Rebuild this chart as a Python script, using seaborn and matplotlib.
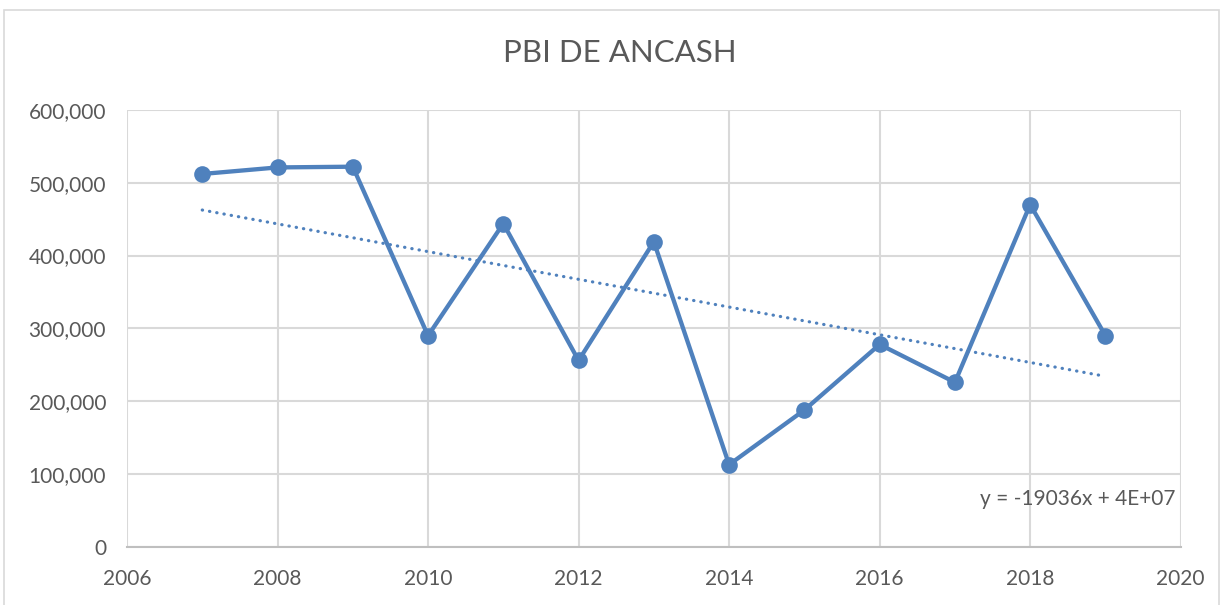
import matplotlib
matplotlib.use("Agg")
import matplotlib.pyplot as plt
import matplotlib.ticker as mticker
from matplotlib.patches import Rectangle
import pandas as pd
import seaborn as sns

# PBI values
years = [2007, 2008, 2009, 2010, 2011, 2012, 2013, 2014, 2015, 2016, 2017, 2018, 2019]
pbi = [512000, 521000, 522000, 290000, 444000, 256000, 419000,
       113000, 188000, 278000, 226000, 470000, 290000]
x_ticks = [2006, 2008, 2010, 2012, 2014, 2016, 2018, 2020]
y_ticks = [0, 100000, 200000, 300000, 400000, 500000, 600000]
title = "PBI DE ANCASH"
equation = "y = -19036x + 4E+07"

df = pd.DataFrame({"year": years, "pbi": pbi})

sns.set_theme(style="white")
plt.rcParams['font.family'] = ['Lato', 'DejaVu Sans']

blue = '#4F81BD'
text_gray = '#595959'
grid_gray = '#D9D9D9'

fig = plt.figure(figsize=(12.21, 6.05), dpi=100)
ax = fig.add_axes([0.104, 0.0959, 0.863, 0.7225])

# outer chart border
fig.patches.append(Rectangle((0.0035, -0.01), 0.995, 0.994, transform=fig.transFigure,
                             fill=False, edgecolor='#D9D9D9', linewidth=1.2))

# trendline (linear regression)
sns.regplot(data=df, x='year', y='pbi', scatter=False, ci=None, ax=ax,
            line_kws=dict(color=blue, linewidth=2.3, linestyle=(0, (0.1, 2.2)),
                          dash_capstyle='round', zorder=2))

sns.lineplot(data=df, x='year', y='pbi', ax=ax, color=blue, linewidth=3.1,
             marker='o', markersize=12, markeredgewidth=0, zorder=3)

ax.set_xlim(2006, 2020)
ax.set_ylim(0, 600000)
ax.set_xticks(x_ticks)
ax.set_yticks(y_ticks)
ax.yaxis.set_major_formatter(mticker.FuncFormatter(lambda v, p: f"{int(v):,}"))
ax.grid(True, color=grid_gray, linewidth=1.5)
ax.set_axisbelow(True)

for side in ['top', 'right', 'left']:
    ax.spines[side].set_visible(False)
ax.spines['bottom'].set_color('#BFBFBF')
ax.spines['bottom'].set_linewidth(1.5)

ax.tick_params(axis='both', length=0, labelsize=15, labelcolor=text_gray)
ax.tick_params(axis='y', pad=15)
ax.tick_params(axis='x', pad=16)
ax.set_xlabel("")
ax.set_ylabel("")

fig.text(0.508, 0.912, title, ha='center', va='center', fontsize=22.5, color=text_gray)
ax.text(0.995, 0.11, equation, transform=ax.transAxes, ha='right', va='center',
        fontsize=15, color=text_gray)

fig.savefig("out.png", dpi=100)
